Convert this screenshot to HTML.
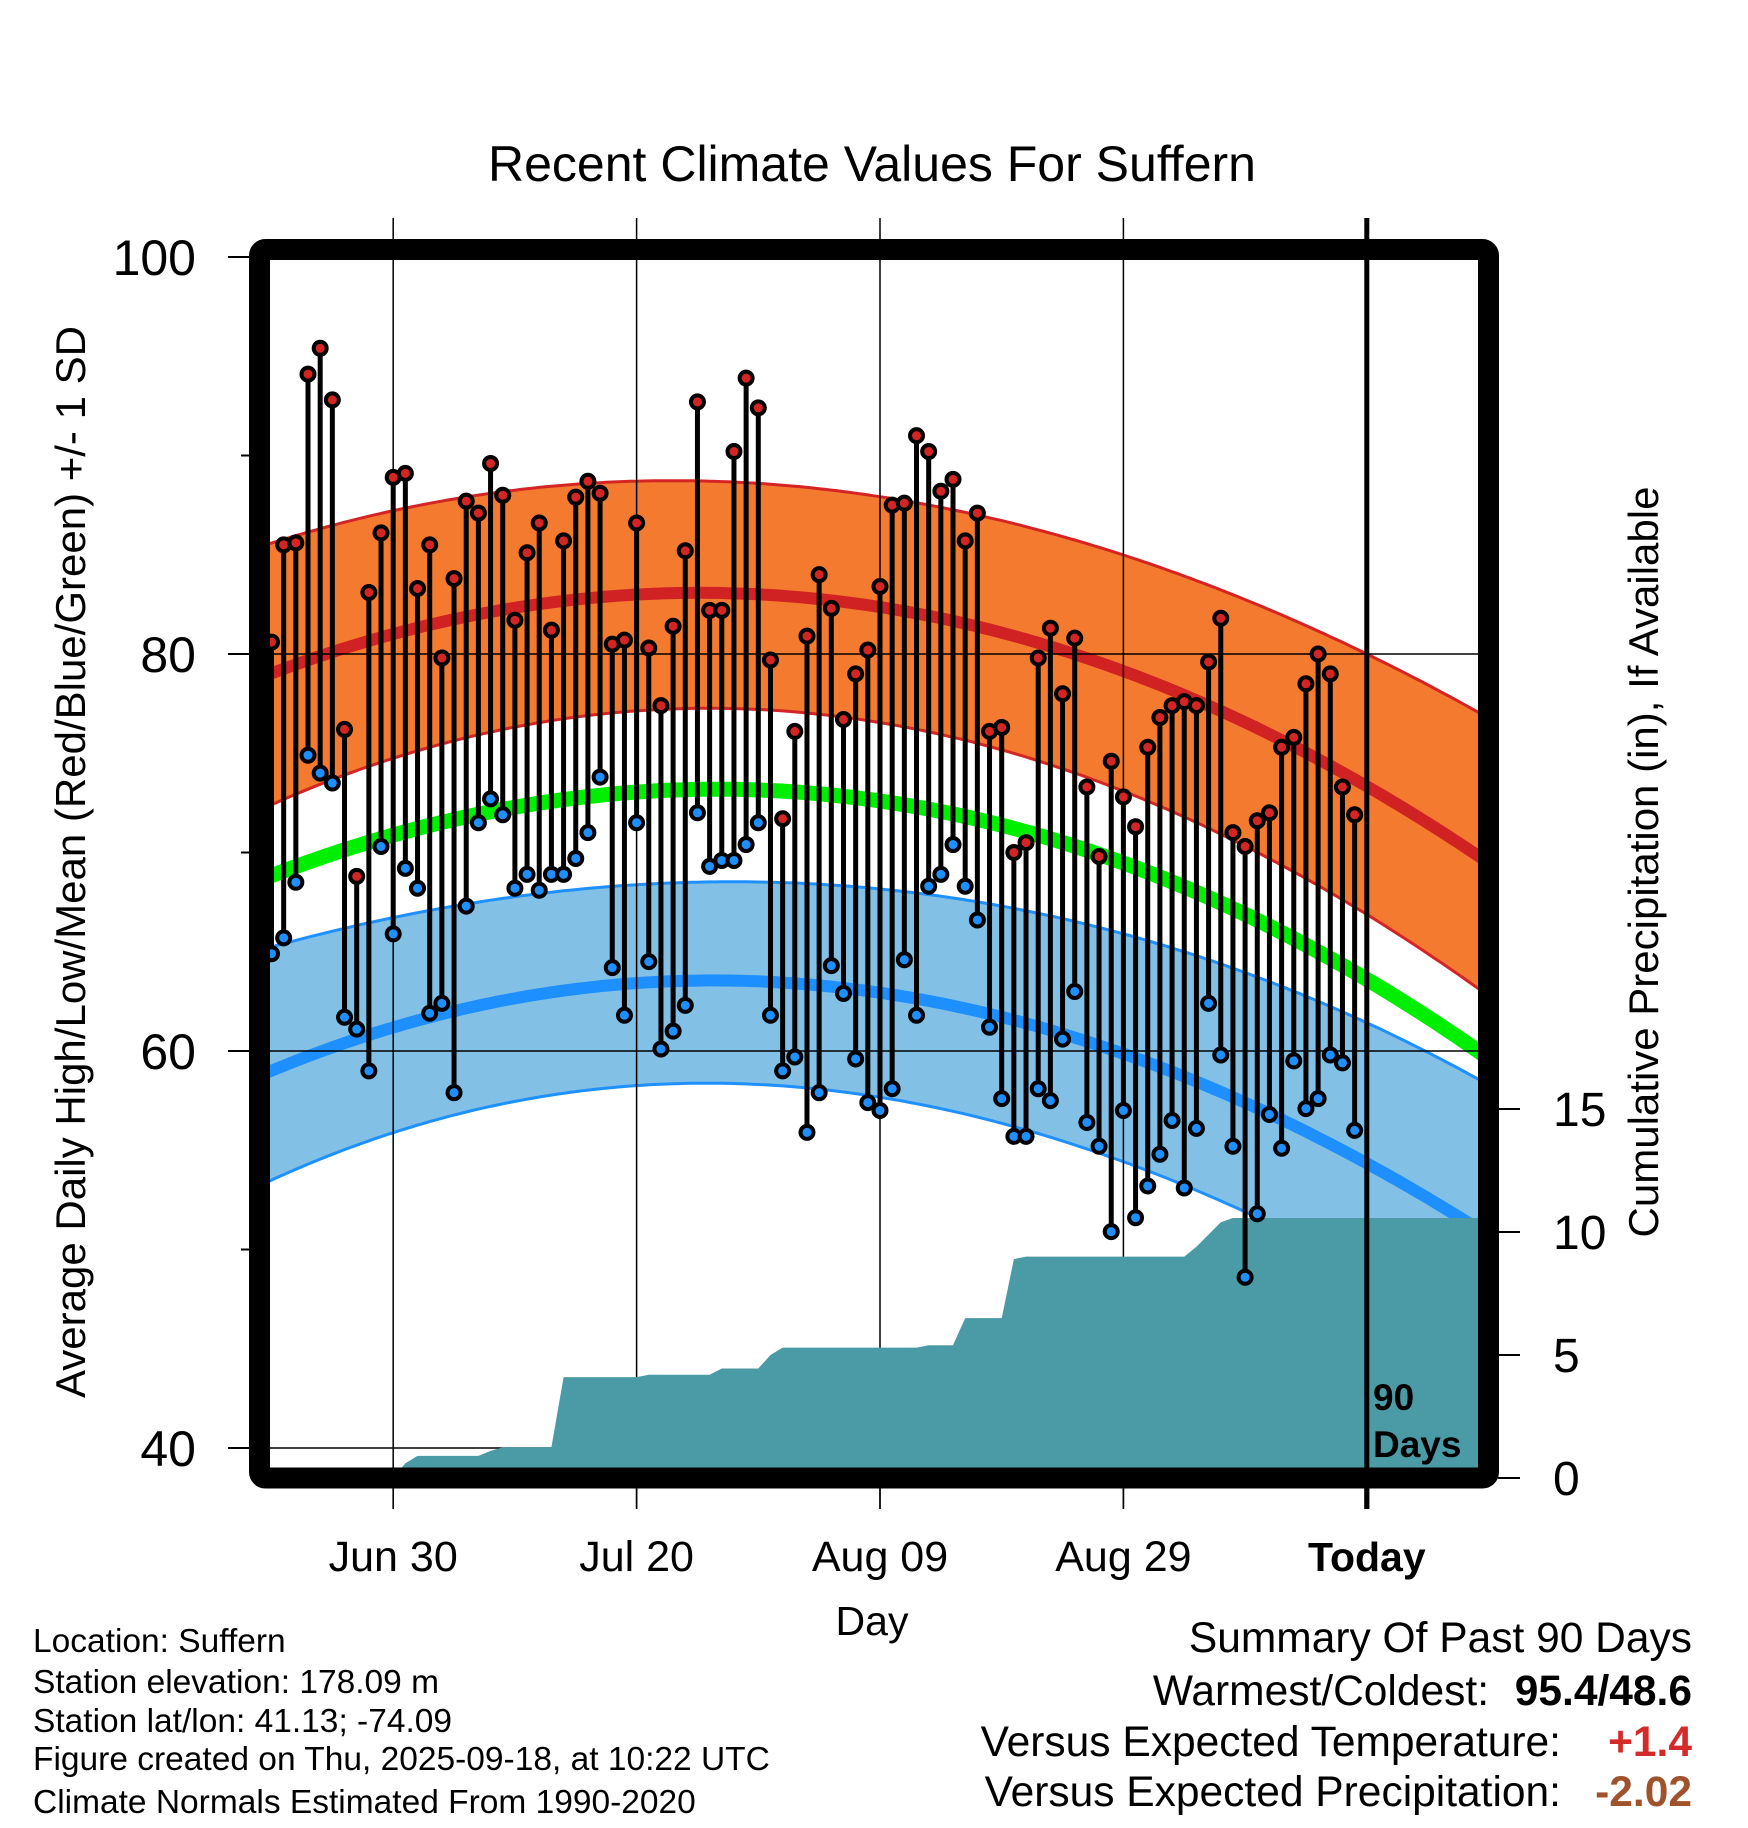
<!DOCTYPE html>
<html><head><meta charset="utf-8">
<style>
html,body{margin:0;padding:0;background:#fff;}
svg{display:block;font-family:"Liberation Sans",Arial,sans-serif;}
</style></head>
<body>
<svg id="chart" xmlns="http://www.w3.org/2000/svg" width="1748" height="1828" viewBox="0 0 1748 1828">
<defs><clipPath id="plotclip"><rect x="270" y="260" width="1208" height="1208"/></clipPath></defs>
<text x="872" y="181" font-size="50" text-anchor="middle">Recent Climate Values For Suffern</text>
<g id="plot" clip-path="url(#plotclip)"></g>
<g id="axes"></g>
<text transform="translate(85,862) rotate(-90)" font-size="42" text-anchor="middle">Average Daily High/Low/Mean (Red/Blue/Green) +/- 1 SD</text>
<text transform="translate(1658,862) rotate(-90)" font-size="42" text-anchor="middle">Cumulative Precipitation (in), If Available</text>
<text x="872" y="1635" font-size="41" text-anchor="middle">Day</text>
<g font-size="33.5">
<text x="33" y="1652">Location: Suffern</text>
<text x="33" y="1693">Station elevation: 178.09 m</text>
<text x="33" y="1732">Station lat/lon: 41.13; -74.09</text>
<text x="33" y="1770">Figure created on Thu, 2025-09-18, at 10:22 UTC</text>
<text x="33" y="1813">Climate Normals Estimated From 1990-2020</text>
</g>
<g font-size="42.5" text-anchor="end">
<text x="1692" y="1652">Summary Of Past 90 Days</text>
<text x="1489" y="1705">Warmest/Coldest:</text>
<text x="1692" y="1705" font-weight="bold">95.4/48.6</text>
<text x="1561" y="1756">Versus Expected Temperature:</text>
<text x="1692" y="1756" font-weight="bold" fill="#d42a2a">+1.4</text>
<text x="1561" y="1806">Versus Expected Precipitation:</text>
<text x="1692" y="1806" font-weight="bold" fill="#a0522d">-2.02</text>
</g>
</svg>
<script>
// ---- data ----
const highs = [80.6,85.5,85.6,94.1,95.4,92.8,76.2,68.8,83.1,86.1,88.9,89.1,83.3,85.5,79.8,83.8,87.7,87.1,89.6,88.0,81.7,85.1,86.6,81.2,85.7,87.9,88.7,88.1,80.5,80.7,86.6,80.3,77.4,81.4,85.2,92.7,82.2,82.2,90.2,93.9,92.4,79.7,71.7,76.1,80.9,84.0,82.3,76.7,79.0,80.2,83.4,87.5,87.6,91.0,90.2,88.2,88.8,85.7,87.1,76.1,76.3,70.0,70.5,79.8,81.3,78.0,80.8,73.3,69.8,74.6,72.8,71.3,75.3,76.8,77.4,77.6,77.4,79.6,81.8,71.0,70.3,71.6,72.0,75.3,75.8,78.5,80.0,79.0,73.3,71.9];
const lows = [64.9,65.7,68.5,74.9,74.0,73.5,61.7,61.1,59.0,70.3,65.9,69.2,68.2,61.9,62.4,57.9,67.3,71.5,72.7,71.9,68.2,68.9,68.1,68.9,68.9,69.7,71.0,73.8,64.2,61.8,71.5,64.5,60.1,61.0,62.3,72.0,69.3,69.6,69.6,70.4,71.5,61.8,59.0,59.7,55.9,57.9,64.3,62.9,59.6,57.4,57.0,58.1,64.6,61.8,68.3,68.9,70.4,68.3,66.6,61.2,57.6,55.7,55.7,58.1,57.5,60.6,63.0,56.4,55.2,50.9,57.0,51.6,53.2,54.8,56.5,53.1,56.1,62.4,59.8,55.2,48.6,51.8,56.8,55.1,59.5,57.1,57.6,59.8,59.4,56.0];
const precip = [0,0,0,0,0,0,0,0,0,0,0,0.6,0.9,0.9,0.9,0.9,0.9,0.9,1.1,1.25,1.25,1.25,1.25,1.25,4.1,4.1,4.1,4.1,4.1,4.1,4.1,4.2,4.2,4.2,4.2,4.2,4.2,4.45,4.45,4.45,4.45,5.0,5.3,5.3,5.3,5.3,5.3,5.3,5.3,5.3,5.3,5.3,5.3,5.3,5.4,5.4,5.4,6.5,6.5,6.5,6.5,8.9,9.0,9.0,9.0,9.0,9.0,9.0,9.0,9.0,9.0,9.0,9.0,9.0,9.0,9.0,9.4,9.9,10.4,10.57,10.57,10.57,10.57,10.57,10.57,10.57,10.57,10.57,10.57,10.57];
const normDays = [0,10,20,30,40,50,60,70,80,90,99.3];
const hiUpper = [85.5,87.3,88.3,88.8,88.6,87.8,86.5,85.0,83.0,80.05,76.9];
const hiMean  = [78.8,81.3,82.5,83.0,82.7,82.2,81.0,79.5,76.7,73.1,69.8];
const hiLower = [72.2,75.0,76.5,77.1,77.0,76.4,75.1,73.3,70.4,66.9,63.0];
const avgMean = [68.7,71.0,72.5,73.0,72.9,72.5,71.4,69.7,66.9,63.5,59.95];
const loUpper = [65.1,66.8,68.0,68.5,68.3,68.0,67.2,65.9,64.1,61.7,58.3];
const loMean  = [58.9,61.3,62.8,63.4,63.3,62.9,61.7,60.0,57.5,54.2,51.0];
const loLower = [53.4,56.0,57.6,58.2,58.1,57.7,56.4,54.5,51.9,48.8,45.5];
const dateTickDays = [10,30,50,70,90];
const dateTickLabels = ["Jun 30","Jul 20","Aug 09","Aug 29","Today"];
const tempTicks = [100,80,60,40];
const tempMinorTicks = [90,70,50];
const precipTicks = [0,5,10,15];

// ---- scales ----
const NS="http://www.w3.org/2000/svg";
function xS(d){return 271.5 + d*12.17;}
function yS(t){return 257 + (100-t)*19.85;}
function yP(p){return 1478 - p*24.6;}
function mk(tag,attrs,parent){const e=document.createElementNS(NS,tag);for(const k in attrs)e.setAttribute(k,attrs[k]);parent.appendChild(e);return e;}
// least-squares cubic fit (smooth curve through normals)
function fitCubic(days,vals){
  const n=4,A=[],B=[];
  for(let r=0;r<n;r++){A.push(new Array(n).fill(0));B.push(0);}
  days.forEach((d,k)=>{const u=d/100;const p=[1,u,u*u,u*u*u];
    for(let r=0;r<n;r++){B[r]+=p[r]*vals[k];for(let c=0;c<n;c++)A[r][c]+=p[r]*p[c];}});
  for(let i=0;i<n;i++){let m=i;for(let r=i+1;r<n;r++)if(Math.abs(A[r][i])>Math.abs(A[m][i]))m=r;
    [A[i],A[m]]=[A[m],A[i]];[B[i],B[m]]=[B[m],B[i]];
    for(let r=0;r<n;r++){if(r===i)continue;const f=A[r][i]/A[i][i];for(let c=i;c<n;c++)A[r][c]-=f*A[i][c];B[r]-=f*B[i];}}
  const co=B.map((b,i)=>b/A[i][i]);
  return d=>{const u=d/100;return co[0]+co[1]*u+co[2]*u*u+co[3]*u*u*u;};
}
function curve(vals){const f=fitCubic(normDays,vals);const pts=[];for(let d=-1;d<=100.5;d+=0.5){pts.push([xS(d),yS(f(d))]);}return pts;}
function ptsStr(p){return p.map(q=>q[0].toFixed(1)+","+q[1].toFixed(1)).join(" ");}

const plot=document.getElementById('plot');
const axes=document.getElementById('axes');

function band(up,lo,fill,edge,name){
  const u=curve(up),l=curve(lo).reverse();
  const b=mk('polygon',{points:ptsStr(u.concat(l)),fill:fill,stroke:'none'},plot);
  
  
  [up,lo].forEach(v=>{const e=mk('polyline',{points:ptsStr(curve(v)),fill:'none',stroke:edge,'stroke-width':3},plot);
    
    });
}
band(hiUpper,hiLower,'#f47a2f','#d42424','high-sd-band');
band(loUpper,loLower,'#82c0e6','#1e90ff','low-sd-band');
function mline(v,col,w,name){const e=mk('polyline',{points:ptsStr(curve(v)),fill:'none',stroke:col,'stroke-width':w},plot);
  
  }
mline(hiMean,'#d02222',12,'mean-high-line');
mline(avgMean,'#00ee00',15,'mean-temp-line');
mline(loMean,'#1e8fff',12,'mean-low-line');

// grid
dateTickDays.forEach((d,i)=>{
  if(i===dateTickDays.length-1) return;
  const g=mk('line',{x1:xS(d),x2:xS(d),y1:218,y2:1509,stroke:'#000','stroke-width':1.5},axes);
  
  
});
[80,60,40].forEach(t=>{
  const g=mk('line',{x1:228,x2:1478,y1:yS(t),y2:yS(t),stroke:'#000','stroke-width':1.5},axes);
  
  
});
// precipitation area (clipped)
const pg=mk('g',{'clip-path':'url(#plotclip)'},axes);


(function(){
  let pts=[[xS(0),yP(0)]];
  precip.forEach((p,i)=>pts.push([xS(i),yP(p)]));
  pts.push([xS(100.5),yP(precip[precip.length-1])]);
  pts.push([xS(100.5),yP(0)]);
  const a=mk('polygon',{points:ptsStr(pts),fill:'#4a9ba5'},pg);
  
  
})();
// stems and dots
const dots=mk('g',{},axes);


highs.forEach((h,i)=>{
  const s=mk('line',{x1:xS(i),x2:xS(i),y1:yS(h),y2:yS(lows[i]),stroke:'#000','stroke-width':5},dots);
  
  
});
highs.forEach((h,i)=>{
  const c1=mk('circle',{cx:xS(i),cy:yS(h),r:6.5,fill:'#d42424',stroke:'#000','stroke-width':4},dots);
  
  
  const c2=mk('circle',{cx:xS(i),cy:yS(lows[i]),r:6.5,fill:'#1e8fff',stroke:'#000','stroke-width':4},dots);
  
  
});
// today line
const tl=mk('line',{x1:xS(90),x2:xS(90),y1:218,y2:1509,stroke:'#000','stroke-width':5},axes);


const t90=mk('text',{x:1373,y:1410,'font-size':37,'font-weight':'bold'},axes);
t90.textContent='90';


const tdy=mk('text',{x:1373,y:1457,'font-size':37,'font-weight':'bold'},axes);
tdy.textContent='Days';


// frame
const fr=mk('rect',{x:259.5,y:249.5,width:1229,height:1228.5,fill:'none',stroke:'#000','stroke-width':21,rx:6},axes);


// left ticks
tempTicks.forEach(t=>{
  const l=mk('line',{x1:228,x2:250,y1:yS(t),y2:yS(t),stroke:'#000','stroke-width':2},axes);
  
  
  const tx=mk('text',{x:196,y:yS(t)+18,'font-size':50,'text-anchor':'end'},axes);
  tx.textContent=String(t);
  
  
});
tempMinorTicks.forEach(t=>{
  const l=mk('line',{x1:241,x2:250,y1:yS(t),y2:yS(t),stroke:'#000','stroke-width':2},axes);
  
  
});
// right ticks
precipTicks.forEach(p=>{
  const l=mk('line',{x1:1498,x2:1520,y1:yP(p),y2:yP(p),stroke:'#000','stroke-width':2},axes);
  
  
  const tx=mk('text',{x:1553,y:yP(p)+17,'font-size':48},axes);
  tx.textContent=String(p);
  
  
});
// x ticks & labels
dateTickDays.forEach((d,i)=>{
  const l=mk('line',{x1:xS(d),x2:xS(d),y1:1488,y2:1509,stroke:'#000','stroke-width':i===dateTickDays.length-1?5:1.5},axes);
  
  
  const last=i===dateTickDays.length-1;
  const tx=mk('text',{x:xS(d),y:1571,'font-size':last?41:43,'text-anchor':'middle'},axes);
  if(last) tx.setAttribute('font-weight','bold');
  tx.textContent=dateTickLabels[i];
  
  
});
</script>
</body></html>
